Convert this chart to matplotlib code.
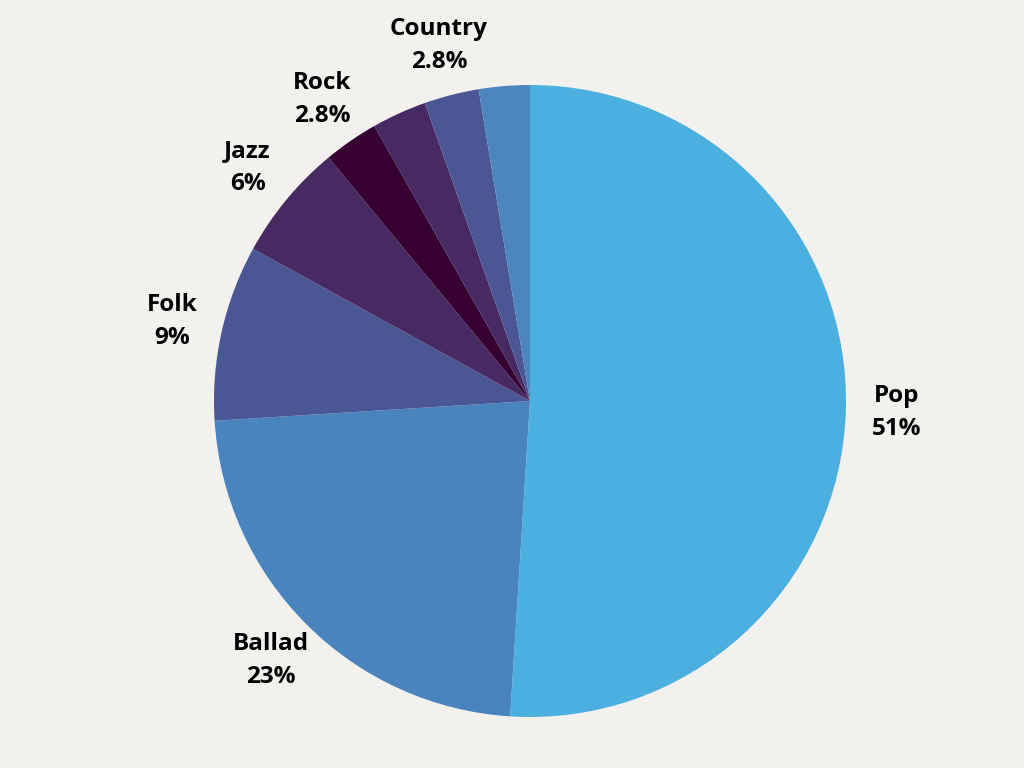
import matplotlib
matplotlib.use('Agg')
from matplotlib import pyplot as plt

# 数据
genres = ['Pop', 'Ballad', 'Folk', 'Jazz', 'Rock', '', 'Country', '']
shares = [51, 23, 9, 6, 2.8, 2.8, 2.8, 2.6]
pct_labels = ['51%', '23%', '9%', '6%', '2.8%', '', '2.8%', '']
colors = ['#4BB0E0', '#4A84BE', '#4A5794', '#472A62', '#360033',
          '#472A62', '#4A5794', '#4D86BE']

plt.rcParams['font.family'] = ['Open Sans', 'DejaVu Sans']

fig = plt.figure(figsize=(10.24, 7.68), dpi=100)
fig.patch.set_facecolor('#F2F1ED')

# 饼图中心 (530, 401) 半径 316 像素
cx, cy, r = 530, 401, 316
ax = fig.add_axes([(cx - r) / 1024, (768 - cy - r) / 768, 2 * r / 1024, 2 * r / 768])
ax.set_facecolor('none')

labels = [f'{g}\n{p}' if g else '' for g, p in zip(genres, pct_labels)]
wedges, texts = ax.pie(shares, labels=labels, colors=colors, startangle=90,
                       counterclock=False, labeldistance=1.16,
                       wedgeprops={'linewidth': 0},
                       textprops={'fontsize': 17.5, 'fontweight': 'bold',
                                  'color': '#000000', 'ha': 'center',
                                  'va': 'center', 'linespacing': 1.5})
for t in texts:
    t.set_horizontalalignment('center')
ax.set_xlim(-1, 1)
ax.set_ylim(-1, 1)
ax.axis('off')

fig.savefig('out.png', dpi=100, facecolor=fig.get_facecolor())
